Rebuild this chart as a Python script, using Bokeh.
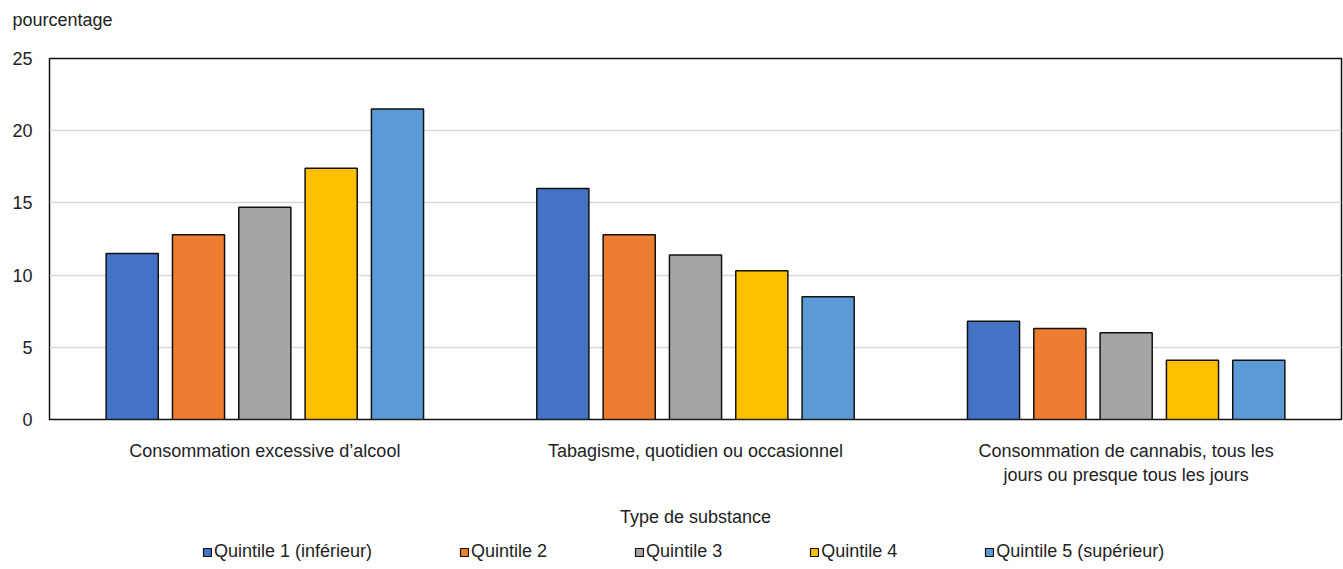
from bokeh.plotting import figure
from bokeh.models import FactorRange, ColumnDataSource, Legend, LegendItem, FixedTicker, Range1d
from bokeh.layouts import column
from bokeh.transform import dodge
from bokeh.embed import file_html
from bokeh.resources import INLINE

categories = ["Consommation excessive d’alcool",
              "Tabagisme, quotidien ou occasionnel",
              "Consommation de cannabis, tous les\njours ou presque tous les jours"]
series_names = ["Quintile 1 (inférieur)", "Quintile 2", "Quintile 3", "Quintile 4", "Quintile 5 (supérieur)"]
q1 = [11.5, 16.0, 6.8]
q2 = [12.8, 12.8, 6.3]
q3 = [14.7, 11.4, 6.0]
q4 = [17.4, 10.3, 4.1]
q5 = [21.5, 8.5, 4.1]
y_ticks = [0, 5, 10, 15, 20, 25]

colors = ["#4472C4", "#ED7D31", "#A5A5A5", "#FFC000", "#5B9BD5"]
FONT = "Liberation Sans"
FS = "18px"
TXT = "#222222"

src = ColumnDataSource(dict(cat=categories, q1=q1, q2=q2, q3=q3, q4=q4, q5=q5))

# header strip carrying the unit title
hd = figure(width=1343, height=40, title="pourcentage", output_backend="svg",
            toolbar_location=None, x_axis_location=None, y_axis_location=None,
            min_border_left=49, min_border_right=2, min_border_top=0, min_border_bottom=0,
            outline_line_color=None)
hd.grid.grid_line_color = None
hd.title.text_font = FONT
hd.title.text_font_size = FS
hd.title.text_font_style = "normal"
hd.title.text_color = TXT
hd.title.align = "left"
hd.title.offset = -37
hd.title.standoff = 14

p = figure(x_range=FactorRange(*categories, range_padding=0), y_range=(0, 25),
           width=1343, height=489, output_backend="svg", toolbar_location=None, title=None,
           min_border_left=49, min_border_right=2, min_border_top=18, min_border_bottom=110)

keys = ["q1", "q2", "q3", "q4", "q5"]
offsets = [-0.308, -0.154, 0.0, 0.154, 0.308]
for k, off, c in zip(keys, offsets, colors):
    p.vbar(x=dodge("cat", off, range=p.x_range), top=k, width=0.121, source=src,
           fill_color=c, line_color="#111111", line_width=1.5)

p.outline_line_color = "#111111"
p.outline_line_width = 1.5
p.xgrid.grid_line_color = None
p.ygrid.grid_line_color = "#d9d9d9"
p.ygrid.grid_line_width = 1.5

p.yaxis.ticker = FixedTicker(ticks=y_ticks)
p.yaxis.axis_line_color = None
p.yaxis.major_tick_line_color = None
p.yaxis.minor_tick_line_color = None
p.yaxis.major_label_text_font = FONT
p.yaxis.major_label_text_font_size = FS
p.yaxis.major_label_text_color = TXT
p.yaxis.major_label_standoff = 11

p.xaxis.axis_line_color = None
p.xaxis.major_tick_line_color = None
p.xaxis.minor_tick_line_color = None
p.xaxis.major_label_text_font = FONT
p.xaxis.major_label_text_font_size = FS
p.xaxis.major_label_text_color = TXT
p.xaxis.major_label_standoff = 15
p.xaxis.axis_label = "Type de substance"
p.xaxis.axis_label_text_font = FONT
p.xaxis.axis_label_text_font_size = FS
p.xaxis.axis_label_text_font_style = "normal"
p.xaxis.axis_label_text_color = TXT
p.xaxis.axis_label_standoff = 19

# legend strip below the chart (same data, drawn outside its visible y range)
lg = figure(width=1343, height=40, x_range=p.x_range, y_range=Range1d(100, 101),
            output_backend="svg", toolbar_location=None,
            x_axis_location=None, y_axis_location=None,
            min_border_left=49, min_border_right=2, min_border_top=0, min_border_bottom=0,
            outline_line_color=None)
lg.grid.grid_line_color = None
items = []
for k, off, c, name in zip(keys, offsets, colors, series_names):
    r = lg.vbar(x=dodge("cat", off, range=lg.x_range), top=k, width=0.121, source=src,
                fill_color=c, line_color="#111111", line_width=1.2)
    items.append(LegendItem(label=name, renderers=[r]))
legend = Legend(items=items, orientation="horizontal", location=(153, 7),
                label_text_font=FONT, label_text_font_size=FS, label_text_color=TXT,
                glyph_width=10, glyph_height=10, label_standoff=2, spacing=87,
                border_line_color=None, background_fill_alpha=0, padding=0, margin=0)
lg.add_layout(legend, "center")

layout = column(hd, p, lg, spacing=0)
open("out.html", "w").write(file_html(layout, INLINE))
